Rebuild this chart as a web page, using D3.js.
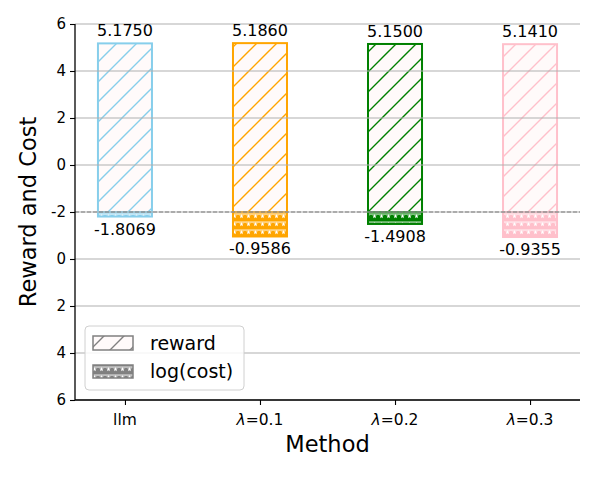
<!DOCTYPE html>
<html>
<head>
<meta charset="utf-8">
<script src="https://cdn.jsdelivr.net/npm/d3@7"></script>
<style>
  html, body { margin: 0; padding: 0; background: #fff; }
  svg { display: block; font-family: "DejaVu Sans", sans-serif; }
</style>
</head>
<body>
<svg id="chart" width="598" height="478"></svg>
<script>
// ---- data ----
const methods = ["llm", "λ=0.1", "λ=0.2", "λ=0.3"];
const reward = [5.1750, 5.1860, 5.1500, 5.1410];
const logCost = [-1.8069, -0.9586, -1.4908, -0.9355];
const barColors = ["#87CEEB", "#FFA500", "#008000", "#FFC0CB"];
const yTickValues = [6, 4, 2, 0, -2, -4, -6, -8, -10];
const yTickLabels = ["6", "4", "2", "0", "-2", "0", "2", "4", "6"];
const baseline = -2;

// ---- layout ----
const svg = d3.select("#chart");
const plotL = 75, plotR = 580, plotT = 24, plotB = 400;

const x = d3.scaleLinear().domain([-0.37, 3.37]).range([plotL, plotR]);
const y = d3.scaleLinear().domain([-10, 6]).range([plotB, plotT]);
const barW = x(0.4) - x(0);

// ---- patterns ----
const defs = svg.append("defs");
function diagPattern(id, color) {
  const w = 20;
  const p = defs.append("pattern").attr("id", id)
    .attr("patternUnits", "userSpaceOnUse").attr("width", w).attr("height", w);
  p.append("rect").attr("width", w).attr("height", w).attr("fill", "#FFFAFA");
  p.append("path")
    .attr("d", `M0,${w} L${w},0 M${-w/2},${w/2} L${w/2},${-w/2} M${w/2},${w*1.5} L${w*1.5},${w/2}`)
    .attr("stroke", color).attr("stroke-width", 1.4).attr("fill", "none");
}
function starPath(cx, cy, r1, r2) {
  let d = "";
  for (let i = 0; i < 10; i++) {
    const a = -Math.PI / 2 + i * Math.PI / 5;
    const r = i % 2 === 0 ? r1 : r2;
    d += (i === 0 ? "M" : "L") + (cx + r * Math.cos(a)).toFixed(2) + "," + (cy + r * Math.sin(a)).toFixed(2);
  }
  return d + "Z";
}
function starPattern(id, color, y0) {
  const w = 7, h = 8;
  const p = defs.append("pattern").attr("id", id)
    .attr("patternUnits", "userSpaceOnUse").attr("width", w).attr("height", h)
    .attr("y", y0);
  p.append("rect").attr("width", w).attr("height", h).attr("fill", color);
  p.append("rect").attr("x", 0).attr("y", 1.6).attr("width", w).attr("height", 0.9).attr("fill", "#fff");
  p.append("path").attr("d", starPath(3.5, 4.3, 2.4, 1.0)).attr("fill", "#fff");
}
barColors.forEach((c, i) => { diagPattern("diag" + i, c); starPattern("star" + i, c, y(baseline)); });
diagPattern("diagLegend", "#808080");
starPattern("starLegend", "#808080", 365);

// ---- bars ----
const g = svg.append("g");
methods.forEach((m, i) => {
  const cx = x(i);
  g.append("rect")
    .attr("x", cx - barW / 2).attr("y", y(reward[i]))
    .attr("width", barW).attr("height", y(baseline) - y(reward[i]))
    .attr("fill", `url(#diag${i})`).attr("stroke", barColors[i]).attr("stroke-width", 2);
  const costEnd = baseline - (logCost[i] - baseline);
  g.append("rect")
    .attr("x", cx - barW / 2).attr("y", y(baseline))
    .attr("width", barW).attr("height", y(costEnd) - y(baseline))
    .attr("fill", `url(#star${i})`).attr("stroke", barColors[i]).attr("stroke-width", 2);
});

// ---- grid (drawn over bars) ----
const grid = svg.append("g");
yTickValues.forEach(v => {
  grid.append("line").attr("x1", plotL).attr("x2", plotR).attr("y1", y(v)).attr("y2", y(v))
    .attr("stroke", "#b0b0b0").attr("stroke-width", 1.1);
});
svg.append("line").attr("x1", plotL).attr("x2", plotR).attr("y1", y(baseline)).attr("y2", y(baseline))
  .attr("stroke", "#808080").attr("stroke-width", 1.1).attr("stroke-dasharray", "4,2");

// ---- value labels ----
methods.forEach((m, i) => {
  svg.append("text").attr("x", x(i)).attr("y", y(reward[i]) - 7)
    .attr("text-anchor", "middle").attr("font-size", 16).text(reward[i].toFixed(4));
  const costEnd = baseline - (logCost[i] - baseline);
  svg.append("text").attr("x", x(i)).attr("y", y(costEnd) + 18)
    .attr("text-anchor", "middle").attr("font-size", 16).text(logCost[i].toFixed(4));
});

// ---- axes ----
const yAxis = d3.axisLeft(y).tickValues(yTickValues)
  .tickFormat((d, i) => yTickLabels[i]).tickSize(5).tickPadding(4);
const ya = svg.append("g").attr("transform", `translate(${plotL},0)`).call(yAxis);
ya.select(".domain").attr("stroke", "#000").attr("stroke-width", 1.3).attr("d", `M0,${plotT}V${plotB}`);
ya.selectAll(".tick line").attr("stroke", "#000").attr("stroke-width", 1.1);
ya.selectAll(".tick text").attr("font-size", 15).attr("font-family", "DejaVu Sans").attr("fill", "#000");

const xAxis = d3.axisBottom(x).tickValues(d3.range(methods.length)).tickFormat("").tickSize(5);
const xa = svg.append("g").attr("transform", `translate(0,${plotB})`).call(xAxis);
xa.select(".domain").attr("stroke", "#000").attr("stroke-width", 1.3).attr("d", `M${plotL},0H${plotR}`);
xa.selectAll(".tick line").attr("stroke", "#000").attr("stroke-width", 1.1);
methods.forEach((m, i) => {
  const t = svg.append("text").attr("x", x(i)).attr("y", plotB + 25)
    .attr("text-anchor", "middle").attr("font-size", 15.5);
  if (m.startsWith("λ")) {
    t.append("tspan").attr("font-style", "italic").text("λ");
    t.append("tspan").text(m.slice(1));
  } else {
    t.text(m);
  }
});

// axis titles
svg.append("text").attr("x", (plotL + plotR) / 2).attr("y", 452)
  .attr("text-anchor", "middle").attr("font-size", 22.5).text("Method");
svg.append("text").attr("transform", `translate(36,${(plotT + plotB) / 2}) rotate(-90)`)
  .attr("text-anchor", "middle").attr("font-size", 22.5).text("Reward and Cost");

// ---- legend ----
const lg = svg.append("g");
lg.append("rect").attr("x", 85).attr("y", 326).attr("width", 159).attr("height", 64)
  .attr("rx", 4).attr("fill", "#fff").attr("fill-opacity", 0.85)
  .attr("stroke", "#d0d0d0").attr("stroke-width", 1);
lg.append("rect").attr("x", 93).attr("y", 336).attr("width", 40).attr("height", 14)
  .attr("fill", "url(#diagLegend)").attr("stroke", "#808080").attr("stroke-width", 1.5);
lg.append("rect").attr("x", 93).attr("y", 365).attr("width", 40).attr("height", 13)
  .attr("fill", "url(#starLegend)").attr("stroke", "#808080").attr("stroke-width", 1.5);
lg.append("text").attr("x", 150).attr("y", 350).attr("font-size", 19).text("reward");
lg.append("text").attr("x", 150).attr("y", 378).attr("font-size", 19).text("log(cost)");
</script>
</body>
</html>
